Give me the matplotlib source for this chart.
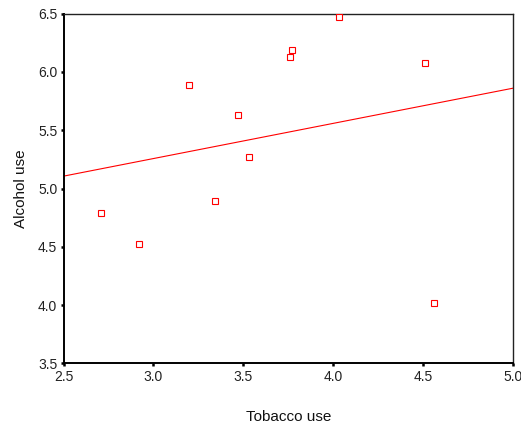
import matplotlib
matplotlib.use("Agg")
import matplotlib.pyplot as plt
import numpy as np

plt.rcParams['font.family'] = ['Liberation Sans', 'DejaVu Sans']

tobacco = [4.03, 3.76, 3.77, 3.34, 3.47, 2.92, 3.20, 2.71, 3.53, 4.51, 4.56]
alcohol = [6.47, 6.13, 6.19, 4.89, 5.63, 4.52, 5.89, 4.79, 5.27, 6.08, 4.02]
xticks = [2.5, 3.0, 3.5, 4.0, 4.5, 5.0]
yticks = [3.5, 4.0, 4.5, 5.0, 5.5, 6.0, 6.5]

fig = plt.figure(figsize=(5.21, 4.26), dpi=100)
ax = fig.add_axes([0.1219, 0.1472, 0.8627, 0.8206])

slope, intercept = np.polyfit(tobacco, alcohol, 1)
xl = np.array([2.5, 5.0])
ax.plot(xl, intercept + slope * xl, color='#ff0000', lw=0.8, zorder=2)
ax.plot(tobacco, alcohol, linestyle='none', marker='s', markersize=4.2,
        markerfacecolor='white', markeredgecolor='#ff0000', markeredgewidth=0.8, zorder=3)

ax.set_xlim(2.5, 5.0)
ax.set_ylim(3.5, 6.5)
ax.set_xticks(xticks)
ax.set_yticks(yticks)
ax.set_xticklabels([f"{t:.1f}" for t in xticks])
ax.set_yticklabels([f"{t:.1f}" for t in yticks])
ax.tick_params(axis='both', direction='out', length=2.5, width=1.8, labelsize=10,
               labelcolor='#222222', color='black', pad=2)

for s in ['left', 'bottom']:
    ax.spines[s].set_linewidth(1.4)
    ax.spines[s].set_color('black')
for s in ['top', 'right']:
    ax.spines[s].set_linewidth(1.0)
    ax.spines[s].set_color('#222222')

ax.set_xlabel('Tobacco use', fontsize=11, labelpad=19, color='#111111')
ax.set_ylabel('Alcohol use', fontsize=11, labelpad=7, color='#111111')

fig.savefig('out.png', dpi=100)
